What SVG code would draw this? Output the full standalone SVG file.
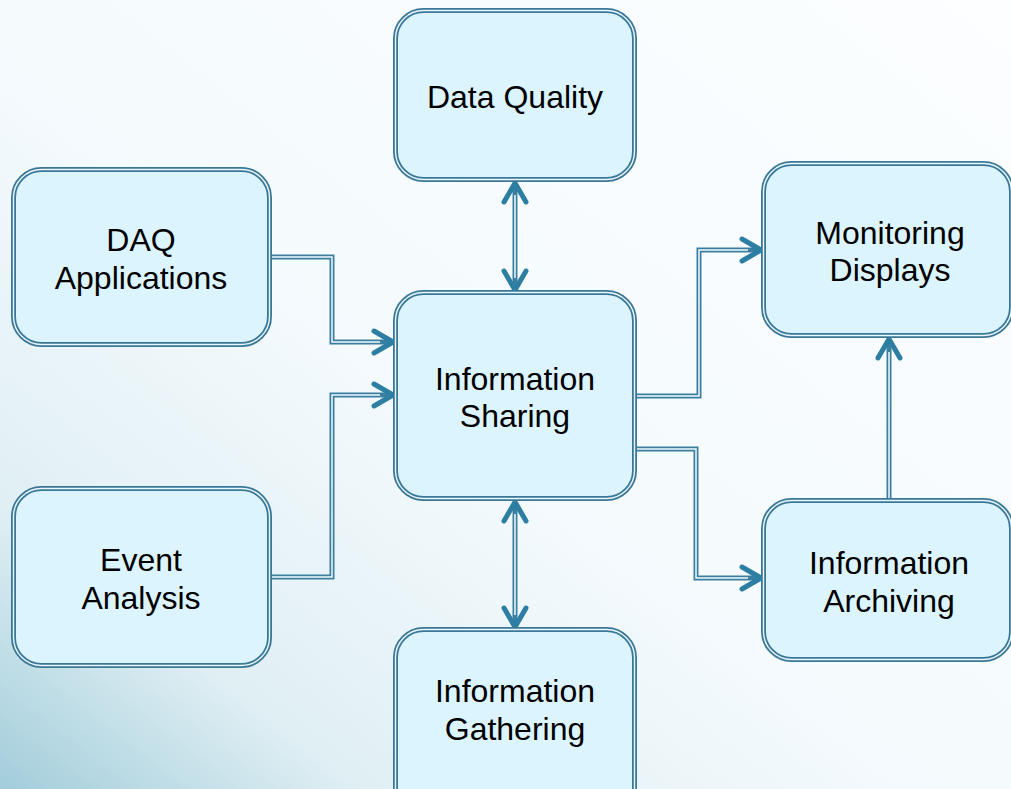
<svg xmlns="http://www.w3.org/2000/svg" width="1011" height="789" viewBox="0 0 1011 789">
<defs>
<linearGradient id="bg" x1="1" y1="0" x2="0" y2="1">
<stop offset="0" stop-color="#fcfeff"/>
<stop offset="0.55" stop-color="#f4fafd"/>
<stop offset="0.82" stop-color="#e0eff4"/>
<stop offset="1" stop-color="#a2cdda"/>
</linearGradient>
<marker id="arr" markerUnits="userSpaceOnUse" markerWidth="30" markerHeight="30" viewBox="0 0 30 30" refX="22" refY="15" orient="auto-start-reverse">
<path d="M3,4 L22,15 L3,26" fill="none" stroke="#2c7fa3" stroke-width="5" stroke-linecap="round" stroke-linejoin="round"/>
</marker>
<style>
.box{fill:#dcf4fe;stroke:#3b7898;stroke-width:5}
.boxin{fill:none;stroke:#e9f7fd;stroke-width:1.4}
.lnout{fill:none;stroke:#3a7fa0;stroke-width:5}
.lnin{fill:none;stroke:#f2fbfe;stroke-width:1.5}
text{font-family:"Liberation Sans",Arial,sans-serif;font-size:32px;fill:#000;text-anchor:middle}
</style>
</defs>
<rect width="1011" height="789" fill="url(#bg)"/>
<g id="connectors">
<path class="lnout" d="M515,183 L515,290" marker-start="url(#arr)" marker-end="url(#arr)"/>
<path class="lnin" d="M515,195 L515,278"/>
<path class="lnout" d="M515,502 L515,627" marker-start="url(#arr)" marker-end="url(#arr)"/>
<path class="lnin" d="M515,514 L515,615"/>
<path class="lnout" d="M272,257 L332,257 L332,342 L393,342" marker-end="url(#arr)"/>
<path class="lnin" d="M272,257 L332,257 L332,342 L380,342"/>
<path class="lnout" d="M272,577 L332,577 L332,395 L393,395" marker-end="url(#arr)"/>
<path class="lnin" d="M272,577 L332,577 L332,395 L380,395"/>
<path class="lnout" d="M637,396 L699,396 L699,250 L761,250" marker-end="url(#arr)"/>
<path class="lnin" d="M637,396 L699,396 L699,250 L748,250"/>
<path class="lnout" d="M637,449 L696,449 L696,578 L761,578" marker-end="url(#arr)"/>
<path class="lnin" d="M637,449 L696,449 L696,578 L748,578"/>
<path class="lnout" d="M889,498 L889,339" marker-end="url(#arr)"/>
<path class="lnin" d="M889,498 L889,352"/>
</g>
<g id="data-quality">
<rect class="box" x="395.5" y="10.5" width="239" height="169" rx="28"/>
<rect class="boxin" x="395.5" y="10.5" width="239" height="169" rx="28"/>
<text x="515" y="108">Data Quality</text>
</g>
<g id="daq-applications">
<rect class="box" x="13.5" y="169.5" width="256" height="175" rx="28"/>
<rect class="boxin" x="13.5" y="169.5" width="256" height="175" rx="28"/>
<text x="141" y="251">DAQ</text>
<text x="141" y="289">Applications</text>
</g>
<g id="event-analysis">
<rect class="box" x="13.5" y="488.5" width="256" height="177" rx="28"/>
<rect class="boxin" x="13.5" y="488.5" width="256" height="177" rx="28"/>
<text x="141" y="571">Event</text>
<text x="141" y="609">Analysis</text>
</g>
<g id="information-sharing">
<rect class="box" x="395.5" y="292.5" width="239" height="206" rx="28"/>
<rect class="boxin" x="395.5" y="292.5" width="239" height="206" rx="28"/>
<text x="515" y="390">Information</text>
<text x="515" y="427">Sharing</text>
</g>
<g id="monitoring-displays">
<rect class="box" x="763.5" y="163.5" width="248" height="172" rx="28"/>
<rect class="boxin" x="763.5" y="163.5" width="248" height="172" rx="28"/>
<text x="890" y="244">Monitoring</text>
<text x="890" y="281">Displays</text>
</g>
<g id="information-archiving">
<rect class="box" x="763.5" y="500.5" width="248" height="159" rx="28"/>
<rect class="boxin" x="763.5" y="500.5" width="248" height="159" rx="28"/>
<text x="889" y="574">Information</text>
<text x="889" y="612">Archiving</text>
</g>
<g id="information-gathering">
<rect class="box" x="395.5" y="629.5" width="239" height="200" rx="28"/>
<rect class="boxin" x="395.5" y="629.5" width="239" height="200" rx="28"/>
<text x="515" y="702">Information</text>
<text x="515" y="740">Gathering</text>
</g>
</svg>
